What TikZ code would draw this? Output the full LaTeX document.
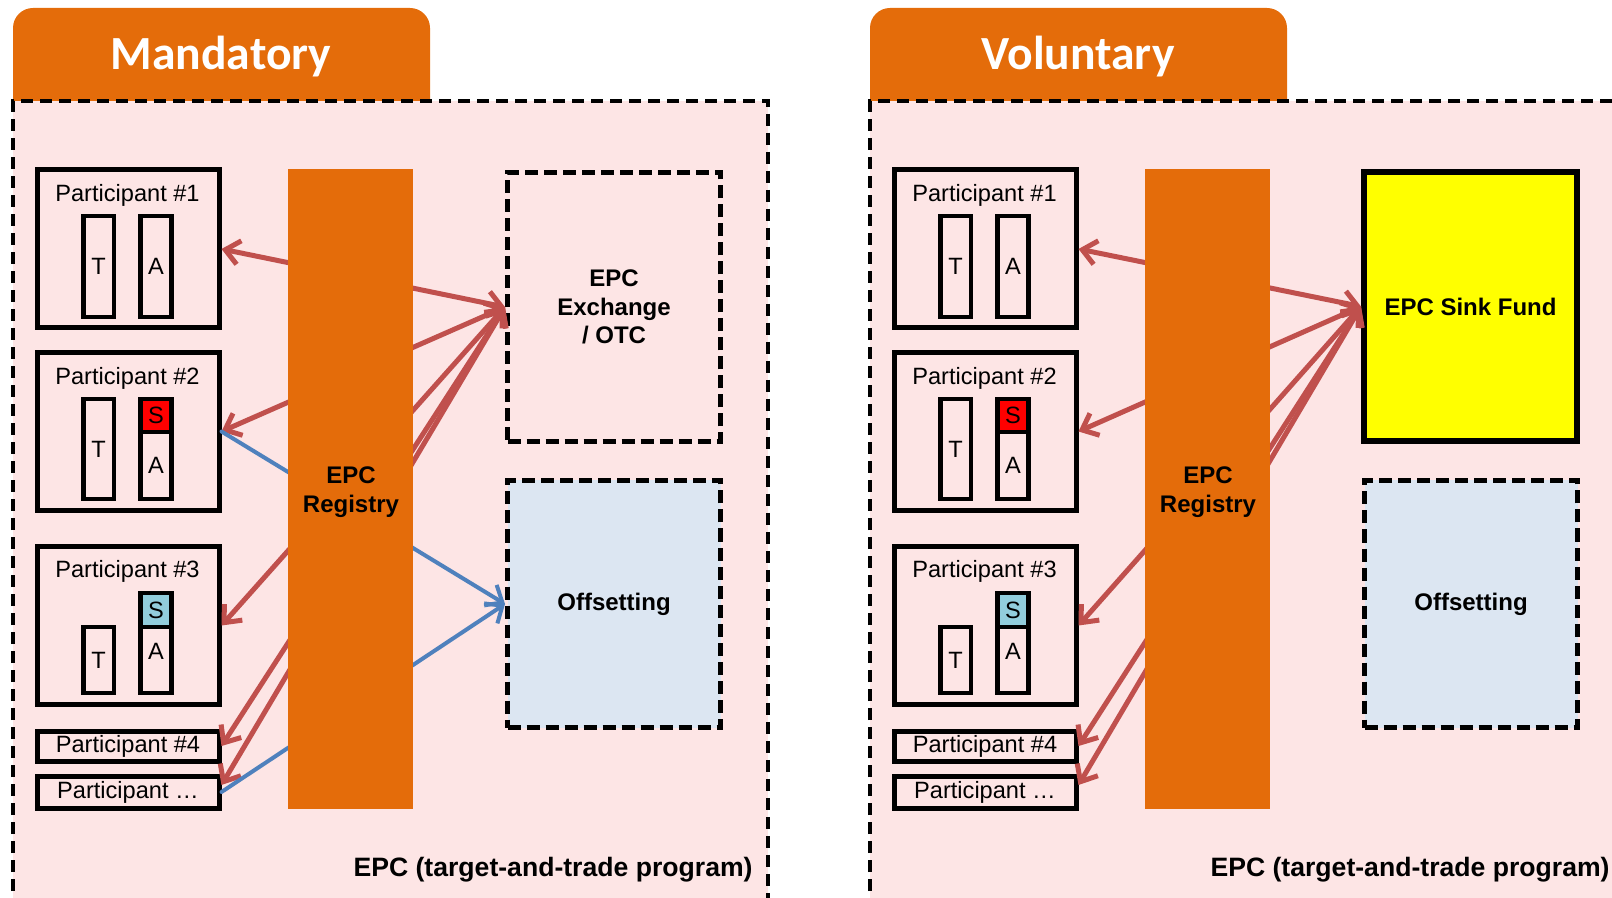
\documentclass[tikz,border=0pt]{standalone}
\usepackage{fontspec}
\setmainfont{Liberation Sans}
\newfontfamily\tabfont{Carlito}
\usetikzlibrary{arrows.meta}
\definecolor{tabor}{HTML}{E46C0A}
\definecolor{bgpink}{HTML}{FDE5E5}
\definecolor{flowred}{HTML}{C0504D}
\definecolor{flowblue}{HTML}{4F81BD}
\definecolor{offblue}{HTML}{DCE6F2}
\definecolor{slotred}{HTML}{FF0000}
\definecolor{slotblue}{HTML}{92CDDC}
\definecolor{sinkyellow}{HTML}{FFFF00}

\begin{document}
\begin{tikzpicture}[
  x=0.5pt, y=-0.5pt,
  tabtitle/.style={white, font=\tabfont\bfseries\fontsize{23.8}{28}\selectfont},
  panelframe/.style={line width=1.75pt, dash pattern=on 6pt off 3.5pt},
  partbox/.style={draw, line width=2.5pt, minimum width=91pt, inner sep=0pt, font=\fontsize{11.8}{14}\selectfont},
  parttext/.style={inner sep=0pt, font=\fontsize{11.8}{14}\selectfont},
  slot/.style={draw, line width=2.3pt, minimum width=15.3pt, inner sep=0pt, font=\fontsize{11.8}{14}\selectfont},
  registry/.style={fill=tabor, minimum width=62.5pt, minimum height=320pt, inner sep=0pt},
  regtext/.style={align=center, inner sep=0pt, font=\bfseries\fontsize{12}{14.5}\selectfont},
  market/.style={minimum width=106.5pt, minimum height=134.5pt, inner sep=0pt, align=center, font=\bfseries\fontsize{12}{14.25}\selectfont},
  dashbox/.style={draw, line width=2.5pt, dash pattern=on 6.5pt off 3pt},
  progtext/.style={anchor=east, inner sep=0pt, font=\bfseries\fontsize{13.3}{16}\selectfont},
  redflow/.style={flowred, line width=2.5pt, line cap=round, <->},
  blueflow/.style={flowblue, line width=2pt, line cap=round, ->},
  >={Straight Barb[length=7pt, width=12pt]},
]

\clip (0,0) rectangle (1612,898);

% ===== Left panel: mandatory =====
\begin{scope}
  \fill[tabor, rounded corners=10pt] (13,101) -- (13,8) -- (430,8) -- (430,101);
  \node[tabtitle] (mtitle) at (221,57) {Mandatory};
  \fill[bgpink] (13,101) rectangle (768,910);
  \draw[panelframe] (13,910) -- (13,101) -- (768,101) -- (768,910);

  % Participants
  \node[partbox, minimum height=79pt] (mp1) at (128,249) {};
  \node[parttext] (mp1name) at (127.5,195) {Participant \#1};
  \node[slot, minimum height=50.5pt] (mp1t) at (98.5,266.5) {T};
  \node[slot, minimum height=50.5pt] (mp1a) at (156,266.5) {A};

  \node[partbox, minimum height=79pt] (mp2) at (128,431.5) {};
  \node[parttext] (mp2name) at (127.5,378) {Participant \#2};
  \node[slot, minimum height=50pt] (mp2t) at (98.5,449) {T};
  \node[slot, minimum height=16.5pt, fill=slotred] (mp2s) at (156,415.5) {S};
  \node[slot, minimum height=33.5pt] (mp2a) at (156,465.5) {A};

  \node[partbox, minimum height=79pt] (mp3) at (128,625.5) {};
  \node[parttext] (mp3name) at (127.5,571) {Participant \#3};
  \node[slot, minimum height=33pt] (mp3t) at (98.5,660) {T};
  \node[slot, minimum height=17pt, fill=slotblue] (mp3s) at (156,610) {S};
  \node[slot, minimum height=33pt] (mp3a) at (156,660) {};
  \node[parttext] (mp3alabel) at (156,651) {A};

  \node[partbox, minimum height=15pt] (mp4) at (128,746) {Participant \#4};
  \node[partbox, minimum height=16pt] (mpdots) at (128,792) {Participant …};

  % Markets
  \node[market, dashbox] (mexch) at (614,307) {EPC\\Exchange\\/ OTC};
  \node[market, dashbox, fill=offblue, minimum height=123.5pt] (moffs) at (614,604) {Offsetting};

  % Flows (behind the registry)
  \draw[redflow] (mexch.west) -- (mp1.east);
  \draw[redflow] (mexch.west) -- (mp2.east);
  \draw[redflow] (mexch.west) -- (mp3.east);
  \draw[redflow] (mexch.west) -- (mp4.east);
  \draw[redflow] (mexch.west) -- ([yshift=3.5pt]mpdots.east);
  \draw[blueflow] (mp2.east) -- (moffs.west);
  \draw[blueflow] (mpdots.east) -- (moffs.west);

  \node[registry] (mreg) at (350.5,489) {};
  \node[regtext] (mregname) at (351,492) {EPC\\Registry};
  \node[progtext] (mprog) at (753,870) {EPC (target-and-trade program)};
\end{scope}

% ===== Right panel: voluntary =====
\begin{scope}[shift={(857,0)}]
  \fill[tabor, rounded corners=10pt] (13,101) -- (13,8) -- (430,8) -- (430,101);
  \node[tabtitle] (vtitle) at (221,57) {Voluntary};
  \fill[bgpink] (13,101) rectangle (768,910);
  \draw[panelframe] (13,910) -- (13,101) -- (768,101) -- (768,910);

  % Participants
  \node[partbox, minimum height=79pt] (vp1) at (128,249) {};
  \node[parttext] (vp1name) at (127.5,195) {Participant \#1};
  \node[slot, minimum height=50.5pt] (vp1t) at (98.5,266.5) {T};
  \node[slot, minimum height=50.5pt] (vp1a) at (156,266.5) {A};

  \node[partbox, minimum height=79pt] (vp2) at (128,431.5) {};
  \node[parttext] (vp2name) at (127.5,378) {Participant \#2};
  \node[slot, minimum height=50pt] (vp2t) at (98.5,449) {T};
  \node[slot, minimum height=16.5pt, fill=slotred] (vp2s) at (156,415.5) {S};
  \node[slot, minimum height=33.5pt] (vp2a) at (156,465.5) {A};

  \node[partbox, minimum height=79pt] (vp3) at (128,625.5) {};
  \node[parttext] (vp3name) at (127.5,571) {Participant \#3};
  \node[slot, minimum height=33pt] (vp3t) at (98.5,660) {T};
  \node[slot, minimum height=17pt, fill=slotblue] (vp3s) at (156,610) {S};
  \node[slot, minimum height=33pt] (vp3a) at (156,660) {};
  \node[parttext] (vp3alabel) at (156,651) {A};

  \node[partbox, minimum height=15pt] (vp4) at (128,746) {Participant \#4};
  \node[partbox, minimum height=16pt] (vpdots) at (128,792) {Participant …};

  % Sink fund and offsetting
  \node[market, draw, line width=3pt, fill=sinkyellow] (vsink) at (613.5,306.5) {EPC Sink Fund};
  \node[market, dashbox, fill=offblue, minimum height=123.5pt] (voffs) at (614,604) {Offsetting};

  % Flows (behind the registry)
  \draw[redflow] (vsink.west) -- (vp1.east);
  \draw[redflow] (vsink.west) -- (vp2.east);
  \draw[redflow] (vsink.west) -- (vp3.east);
  \draw[redflow] (vsink.west) -- (vp4.east);
  \draw[redflow] (vsink.west) -- ([yshift=3.5pt]vpdots.east);

  \node[registry] (vreg) at (350.5,489) {};
  \node[regtext] (vregname) at (351,492) {EPC\\Registry};
  \node[progtext] (vprog) at (753,870) {EPC (target-and-trade program)};
\end{scope}

\end{tikzpicture}
\end{document}
